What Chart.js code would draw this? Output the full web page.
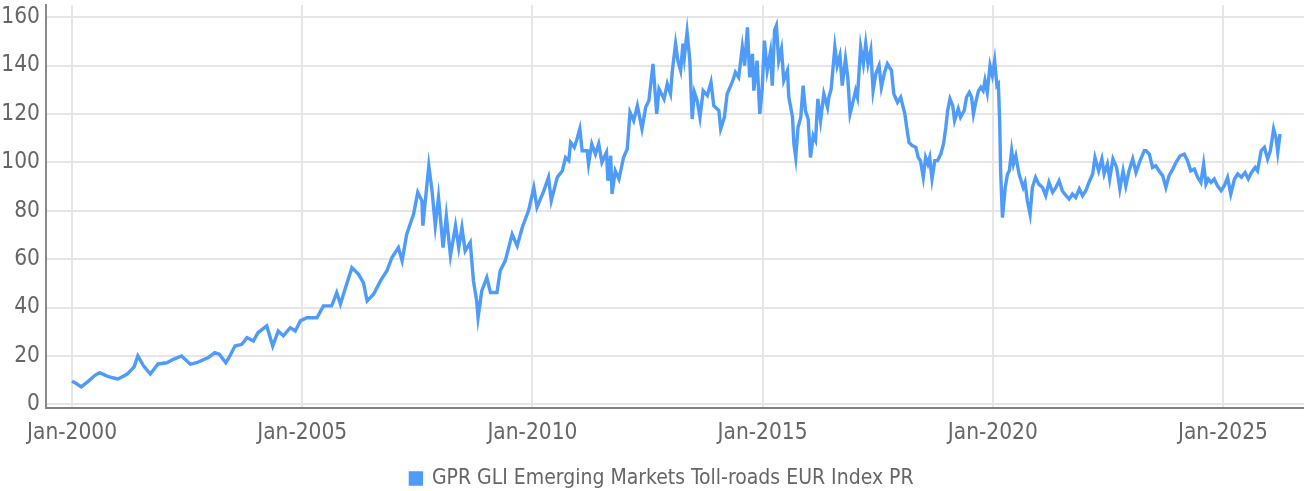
<!DOCTYPE html>
<html><head><meta charset="utf-8">
<script src="https://cdn.jsdelivr.net/npm/chart.js@4.4.1/dist/chart.umd.min.js"></script>
<style>html,body{margin:0;padding:0;background:#fff}#wrap{width:1304px;height:491px;position:relative}</style>
</head><body><div id="wrap"><canvas id="c"></canvas></div>
<script>
const seriesName = 'GPR GLI Emerging Markets Toll-roads EUR Index PR';
const years = [
2000.00,2000.10,2000.20,2000.35,2000.50,2000.60,2000.75,2000.88,2001.00,2001.20,2001.35,2001.43,2001.55,2001.70,2001.87,
2002.06,2002.20,2002.38,2002.57,2002.71,2002.96,2003.10,2003.20,2003.34,2003.43,2003.54,2003.69,2003.80,2003.94,
2004.04,2004.23,2004.36,2004.48,2004.59,2004.74,2004.85,2004.96,2005.10,2005.32,2005.46,2005.64,2005.75,2005.83,2005.93,
2006.08,2006.22,2006.33,2006.41,2006.55,2006.70,2006.84,2006.95,2007.09,2007.17,2007.27,2007.42,2007.51,2007.60,2007.62,
2007.70,2007.75,2007.82,2007.89,2007.96,2008.06,2008.13,2008.22,2008.33,2008.40,2008.47,2008.54,2008.65,2008.72,2008.79,
2008.82,2008.90,2009.01,2009.09,2009.23,2009.30,2009.41,2009.56,2009.67,2009.78,2009.92,2010.03,2010.10,2010.25,2010.35,
2010.41,2010.54,2010.65,2010.72,2010.79,2010.83,2010.91,2010.96,2011.03,2011.08,2011.19,2011.22,2011.29,2011.37,2011.44,
2011.51,2011.61,2011.64,2011.70,2011.73,2011.80,2011.88,2011.98,2012.06,2012.12,2012.20,2012.28,2012.38,2012.46,2012.53,
2012.62,2012.70,2012.75,2012.86,2012.93,2013.00,2013.04,2013.11,2013.16,2013.22,2013.27,2013.30,2013.36,2013.42,2013.47,
2013.52,2013.58,2013.64,2013.71,2013.80,2013.88,2013.94,2014.05,2014.09,2014.17,2014.23,2014.34,2014.41,2014.48,2014.56,
2014.61,2014.67,2014.72,2014.78,2014.81,2014.88,2014.94,2014.99,2015.04,2015.10,2015.17,2015.21,2015.26,2015.30,2015.35,
2015.41,2015.46,2015.54,2015.57,2015.65,2015.68,2015.72,2015.77,2015.83,2015.88,2015.93,2015.99,2016.04,2016.10,2016.15,
2016.20,2016.26,2016.33,2016.41,2016.44,2016.49,2016.57,2016.62,2016.68,2016.73,2016.80,2016.85,2016.90,2016.97,2017.02,
2017.06,2017.13,2017.19,2017.24,2017.29,2017.35,2017.40,2017.46,2017.53,2017.58,2017.65,2017.71,2017.80,2017.85,2017.93,
2018.00,2018.09,2018.13,2018.18,2018.25,2018.33,2018.38,2018.43,2018.49,2018.54,2018.59,2018.63,2018.68,2018.74,2018.80,
2018.87,2018.93,2018.98,2019.02,2019.07,2019.13,2019.17,2019.25,2019.30,2019.38,2019.43,2019.49,2019.54,2019.58,2019.63,
2019.69,2019.74,2019.79,2019.83,2019.88,2019.94,2019.99,2020.04,2020.09,2020.12,2020.15,2020.17,2020.21,2020.27,2020.32,
2020.36,2020.41,2020.45,2020.50,2020.57,2020.66,2020.70,2020.75,2020.81,2020.86,2020.93,2021.00,2021.08,2021.15,2021.22,
2021.30,2021.37,2021.44,2021.51,2021.59,2021.66,2021.73,2021.80,2021.88,2021.95,2022.02,2022.09,2022.17,2022.22,2022.30,
2022.37,2022.42,2022.49,2022.54,2022.61,2022.69,2022.76,2022.83,2022.89,2022.96,2023.04,2023.11,2023.20,2023.29,2023.33,
2023.40,2023.47,2023.54,2023.61,2023.69,2023.76,2023.83,2023.91,2023.98,2024.07,2024.16,2024.23,2024.30,2024.38,2024.45,
2024.52,2024.58,2024.63,2024.68,2024.74,2024.81,2024.88,2024.96,2025.03,2025.10,2025.17,2025.25,2025.32,2025.40,2025.48,
2025.55,2025.62,2025.70,2025.75,2025.83,2025.90,2025.97,2026.03,2026.10,2026.15,2026.19,2026.24
];
const values = [
9.6,8.5,7.2,9.5,12.0,13.1,11.8,11.0,10.5,12.5,15.5,20.0,16.0,12.5,16.7,
17.2,18.6,20.0,16.6,17.2,19.3,21.4,20.7,17.2,20.0,24.1,24.8,27.6,26.2,
29.6,32.4,24.1,30.3,28.3,31.7,30.3,34.5,35.8,35.8,40.7,40.7,46.2,41.4,47.6,
56.5,53.8,50.3,42.7,45.5,51.0,55.2,60.7,64.8,59.3,70.3,78.6,87.6,84.1,73.8,
89.0,98.6,88.3,73.8,85.5,64.8,77.9,61.4,73.8,64.8,73.1,63.4,66.9,51.0,42.7,
35.8,46.9,52.4,46.2,46.2,55.2,59.3,70.3,65.5,73.1,80.3,89.6,81.4,88.3,93.8,
84.1,93.8,96.5,102.0,100.7,108.2,106.2,109.0,113.8,104.8,104.8,99.3,107.6,103.4,107.6,
100.0,104.1,92.4,102.7,86.9,96.5,93.1,102.0,105.5,120.7,117.2,123.4,113.8,122.7,125.5,
140.7,120.0,130.3,126.2,132.4,128.3,137.9,149.0,142.0,137.9,149.0,143.4,153.8,142.0,117.9,
128.9,125.5,118.6,129.6,127.6,133.1,123.4,121.4,113.8,118.6,128.3,133.1,137.2,135.1,147.6,
140.0,155.8,135.1,144.8,129.6,142.0,120.0,130.0,150.3,137.9,145.5,131.7,154.5,156.5,142.0,
146.9,133.8,137.9,126.9,118.6,107.6,102.0,114.5,118.6,131.7,121.4,117.9,102.0,111.0,109.0,
126.2,117.2,128.3,122.7,126.9,130.3,147.6,140.0,144.1,131.7,142.8,135.1,120.0,125.5,129.6,
126.9,147.6,140.7,149.0,140.7,146.2,129.6,136.6,140.0,131.0,137.2,140.7,137.9,128.3,124.8,
126.9,120.0,114.5,108.2,106.9,106.2,102.0,100.7,93.8,102.0,99.3,102.0,93.1,100.7,100.7,
103.4,107.6,114.5,121.4,126.2,123.4,117.2,122.1,118.6,121.4,126.9,128.9,126.9,120.0,124.8,
129.6,131.0,129.6,133.8,128.9,140.0,135.9,142.0,131.7,132.4,117.2,96.5,77.2,89.6,95.2,
96.5,104.8,99.3,102.7,95.2,89.6,91.7,84.1,78.6,89.6,93.8,91.0,89.6,86.2,91.7,
87.6,89.6,92.4,88.3,86.2,84.8,86.9,85.5,89.0,86.2,88.3,91.7,95.2,102.0,96.5,
101.4,95.2,99.3,93.1,101.4,97.9,89.0,96.5,90.3,96.5,101.4,95.8,100.7,104.8,104.8,
103.4,97.9,98.6,96.5,94.5,89.6,94.5,97.2,100.0,102.7,103.4,100.7,96.5,97.2,93.8,
91.7,99.3,91.0,93.1,91.7,93.1,90.3,88.3,90.3,93.8,86.9,93.1,95.2,93.8,95.8,
93.1,95.8,97.9,96.5,104.8,106.2,101.4,104.8,113.8,110.3,104.1,111.7
];
const xTickYears = [2000, 2005, 2010, 2015, 2020, 2025];
const yTickValues = [0, 20, 40, 60, 80, 100, 120, 140, 160];

const FONT = '"DejaVu Sans Condensed", "DejaVu Sans", sans-serif';
const TEXT = '#666666';

const legendShift = {
  id: 'legendShift',
  afterLayout(chart) {
    const lg = chart.legend;
    if (lg) { lg.left += 10; lg.right += 10; }
  }
};

new Chart(document.getElementById('c'), {
  type: 'line',
  plugins: [legendShift],
  data: {
    datasets: [{
      label: seriesName,
      data: years.map((x, i) => ({ x: x, y: values[i] })),
      borderColor: '#4e9bfa',
      backgroundColor: '#4e9bfa',
      borderWidth: 3.4,
      pointRadius: 0,
      tension: 0,
      fill: false
    }]
  },
  options: {
    responsive: true,
    maintainAspectRatio: false,
    animation: false,
    layout: { padding: { left: 0, right: 0, top: 5, bottom: -8 } },
    plugins: {
      legend: {
        display: true,
        position: 'bottom',
        labels: { font: { family: FONT, size: 21 }, color: TEXT, boxWidth: 11, boxHeight: 11, padding: 0 }
      },
      tooltip: { enabled: false }
    },
    scales: {
      x: {
        type: 'linear',
        min: 1999.435,
        max: 2026.76,
        afterBuildTicks: (s) => { s.ticks = xTickYears.map(v => ({ value: v })); },
        afterFit: (s) => { s.height = 60; },
        ticks: {
          font: { family: FONT, size: 22.5 }, color: TEXT, padding: 12, maxRotation: 0, autoSkip: false,
          callback: (v) => 'Jan-' + v
        },
        grid: { color: '#e6e6e6', lineWidth: 2, drawTicks: false },
        border: { color: '#808080', width: 2 }
      },
      y: {
        min: -1.5,
        max: 165,
        afterBuildTicks: (s) => { s.ticks = yTickValues.map(v => ({ value: v })); },
        afterFit: (s) => { s.width = 46; s.paddingTop = 0; s.paddingBottom = 0; },
        ticks: { font: { family: FONT, size: 22.5 }, color: TEXT, padding: 6 },
        grid: { color: '#e6e6e6', lineWidth: 2, drawTicks: false },
        border: { color: '#8a8a8a', width: 2 }
      }
    }
  }
});
</script></body></html>
